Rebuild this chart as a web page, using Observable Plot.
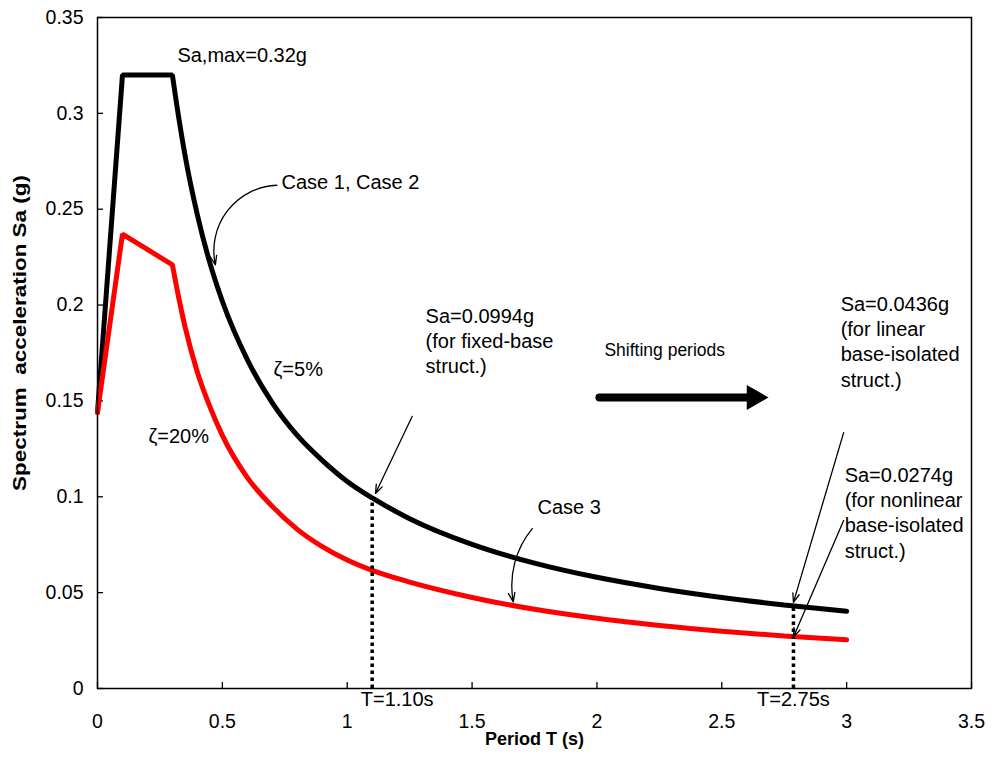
<!DOCTYPE html>
<html><head><meta charset="utf-8">
<script src="https://cdn.jsdelivr.net/npm/d3@7"></script>
<script src="https://cdn.jsdelivr.net/npm/@observablehq/plot@0.6"></script>
<style>body{margin:0;background:#fff;} svg{display:block}</style>
</head><body><div id="chart"></div>
<script>
// ---- data ----
const periods     = [0, 0.1, 0.3, 0.35, 0.4, 0.45, 0.5, 0.6, 0.7, 0.8, 0.9, 1.0, 1.1, 1.25, 1.5, 1.75, 2.0, 2.25, 2.5, 2.75, 3.0];
const saDamping5  = [0.144, 0.32, 0.32, 0.2785, 0.247, 0.222, 0.202, 0.1715, 0.149, 0.132, 0.119, 0.108, 0.0994, 0.0886, 0.0752, 0.0654, 0.058, 0.0522, 0.0475, 0.0436, 0.0403];
const saDamping20 = [0.144, 0.237, 0.221, 0.189, 0.165, 0.147, 0.132, 0.110, 0.095, 0.083, 0.074, 0.067, 0.0616, 0.0555, 0.0475, 0.0413, 0.0366, 0.0329, 0.0299, 0.0274, 0.0254];

const xTicks = [0, 0.5, 1, 1.5, 2, 2.5, 3, 3.5];
const yTicks = [0, 0.05, 0.1, 0.15, 0.2, 0.25, 0.3, 0.35];
const xTitle = "Period T (s)";
const yTitle = "Spectrum  acceleration Sa (g)";

// marked periods (dotted lines) and their labels
const markedT       = [1.1, 2.787];
const markedSa      = [0.0994, 0.0436];
const markedLabels  = ["T=1.10s", "T=2.75s"];
const markedLabelT  = [1.20, 2.787];

// text annotations
const noteTexts = ["Sa,max=0.32g", "Case 1, Case 2", "ζ=5%", "ζ=20%",
  "Sa=0.0994g\n(for fixed-base\nstruct.)",
  "Sa=0.0436g\n(for linear\nbase-isolated\nstruct.)",
  "Sa=0.0274g\n(for nonlinear\nbase-isolated\nstruct.)",
  "Case 3"];
const noteT  = [0.320, 0.737, 0.705, 0.204, 1.314, 2.976, 2.992, 1.762];
const noteSa = [0.3312, 0.265, 0.167, 0.1325, 0.1818, 0.1815, 0.0923, 0.0955];
const shiftText = "Shifting periods";
const shiftTextPos = [2.030, 0.1763];

// straight thin arrows
const arrowT1  = [1.260, 2.988, 2.988];
const arrowSa1 = [0.1419, 0.1335, 0.0876];
const arrowT2  = [1.113, 2.787, 2.787];
const arrowSa2 = [0.1017, 0.0449, 0.0269];
// curved arrows: Case 1/2 and Case 3
const curvedStartT  = [0.718, 1.741];
const curvedStartSa = [0.2625, 0.0834];
const curvedEndT    = [0.472, 1.665];
const curvedEndSa   = [0.2210, 0.0452];
// thick "shifting periods" arrow
const shiftShaftT = [2.010, 2.650];
const shiftHeadT  = 2.629;
const shiftSa     = 0.1518;

const FONT = "'Liberation Sans', Arial, Helvetica, sans-serif";
const W = 1002, H = 759, mL = 97, mR = 31, mT = 17, mB = 71;
const innerW = W - mL - mR, innerH = H - mT - mB;
const idx = d3.range(noteTexts.length);

// straight segments up to the corner, then a smooth cubic through the remaining points
function kneeCurve(nLinear) {
  return (context) => {
    let pts = [];
    return {
      areaStart() {}, areaEnd() {},
      lineStart() { pts = []; },
      point(x, y) { pts.push([+x, +y]); },
      lineEnd() {
        const n = pts.length; if (!n) return;
        context.moveTo(pts[0][0], pts[0][1]);
        const k = Math.min(nLinear, n - 1);
        for (let i = 1; i <= k; i++) context.lineTo(pts[i][0], pts[i][1]);
        const P = pts.slice(k), m = P.length;
        if (m < 2) return;
        const h = [], s = [], t = [];
        for (let i = 0; i < m - 1; i++) { h[i] = P[i + 1][0] - P[i][0]; s[i] = (P[i + 1][1] - P[i][1]) / h[i]; }
        for (let i = 1; i < m - 1; i++) t[i] = (s[i - 1] * h[i] + s[i] * h[i - 1]) / (h[i - 1] + h[i]);
        t[0] = m > 2 ? ((2 * h[0] + h[1]) * s[0] - h[0] * s[1]) / (h[0] + h[1]) : s[0];
        t[m - 1] = m > 2 ? ((2 * h[m - 2] + h[m - 3]) * s[m - 2] - h[m - 2] * s[m - 3]) / (h[m - 2] + h[m - 3]) : s[m - 2];
        for (let i = 0; i < m - 1; i++) {
          const d = h[i] / 3;
          context.bezierCurveTo(P[i][0] + d, P[i][1] + t[i] * d, P[i + 1][0] - d, P[i + 1][1] - t[i + 1] * d, P[i + 1][0], P[i + 1][1]);
        }
      }
    };
  };
}

const chart = Plot.plot({
  width: W, height: H,
  marginLeft: mL, marginRight: mR, marginTop: mT, marginBottom: mB,
  x: {domain: [0, 3.5]},
  y: {domain: [0, 0.35]},
  style: {fontFamily: FONT, background: "white", color: "black"},
  marks: [
    Plot.tickX(xTicks, {x: d => d, insetTop: innerH - 6, stroke: "black", strokeWidth: 1.3}),
    Plot.tickY(yTicks, {y: d => d, insetRight: innerW - 6, stroke: "black", strokeWidth: 1.3}),
    Plot.axisX(xTicks, {tickSize: 0, tickPadding: 26, fontSize: 19.5, label: null, tickFormat: d => String(d)}),
    Plot.axisY(yTicks, {tickSize: 0, tickPadding: 14, fontSize: 19.5, label: null, tickFormat: d => String(d)}),
    Plot.line(periods, {x: d => d, y: (d, i) => saDamping5[i], curve: kneeCurve(2), stroke: "black", strokeWidth: 5, strokeLinejoin: "miter", strokeLinecap: "round"}),
    Plot.line(periods, {x: d => d, y: (d, i) => saDamping20[i], curve: kneeCurve(2), stroke: "#ff0000", strokeWidth: 5, strokeLinejoin: "miter", strokeLinecap: "round"}),
    Plot.ruleX(markedT, {x: d => d, y1: 0, y2: (d, i) => markedSa[i], stroke: "black", strokeWidth: 3.5, strokeDasharray: "3.5,3.5"}),
    Plot.text(markedLabels, {x: (d, i) => markedLabelT[i], frameAnchor: "bottom", dy: 17, text: d => d, fontSize: 20, textAnchor: "middle"}),
    Plot.text(idx, {x: i => noteT[i], y: i => noteSa[i], text: i => noteTexts[i], textAnchor: "start", lineAnchor: "middle", fontSize: 20, lineHeight: 1.27}),
    Plot.text([shiftText], {x: () => shiftTextPos[0], y: () => shiftTextPos[1], text: d => d, textAnchor: "start", fontSize: 17.5}),
    Plot.arrow(d3.range(arrowT1.length), {x1: i => arrowT1[i], y1: i => arrowSa1[i], x2: i => arrowT2[i], y2: i => arrowSa2[i], stroke: "black", strokeWidth: 1.3, headLength: 11, headAngle: 40}),
    Plot.arrow([0], {x1: i => curvedStartT[i], y1: i => curvedStartSa[i], x2: i => curvedEndT[i], y2: i => curvedEndSa[i], bend: -50, stroke: "black", strokeWidth: 1.3, headLength: 11, headAngle: 40}),
    Plot.arrow([1], {x1: i => curvedStartT[i], y1: i => curvedStartSa[i], x2: i => curvedEndT[i], y2: i => curvedEndSa[i], bend: -25, stroke: "black", strokeWidth: 1.3, headLength: 11, headAngle: 40}),
    Plot.line(shiftShaftT, {x: d => d, y: () => shiftSa, stroke: "black", strokeWidth: 8}),
    Plot.dot([shiftHeadT], {x: d => d, y: () => shiftSa, symbol: "triangle2", rotate: 90, r: 12, fill: "black", stroke: "none"}),
    Plot.text([xTitle], {frameAnchor: "bottom", dy: 56, text: d => d, fontSize: 18, fontWeight: "bold", textAnchor: "middle"}),
    Plot.text([yTitle], {frameAnchor: "left", dx: -77, dy: -20, rotate: -90, text: d => d, fontSize: 18, fontWeight: "bold", textAnchor: "middle"}),
    Plot.frame({stroke: "black", strokeWidth: 1.5})
  ]
});
document.getElementById("chart").append(chart);
chart.querySelectorAll("text").forEach(t => {
  if (t.textContent.startsWith("Spectrum")) {
    t.style.whiteSpace = "pre";
    const tr = t.getAttribute("transform");
    if (tr) t.setAttribute("transform", tr + " scale(1.25,1)");
  }
});
</script></body></html>
